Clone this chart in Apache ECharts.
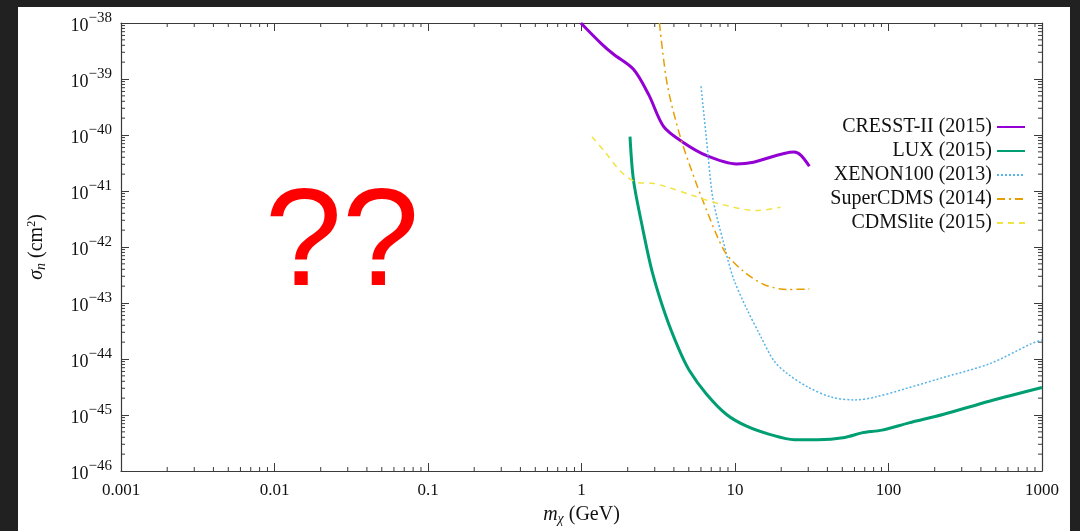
<!DOCTYPE html>
<html>
<head>
<meta charset="utf-8">
<script src="https://cdn.jsdelivr.net/npm/echarts@6/dist/echarts.min.js"></script>
<style>
  html, body { margin: 0; padding: 0; background: #212121; }
  #paper { position: absolute; left: 18px; top: 7px; width: 1052px; height: 524px; background: #ffffff; }
  #chart { position: absolute; left: 0; top: 0; width: 1080px; height: 531px; }
</style>
</head>
<body>
<div id="paper"></div>
<div id="chart"></div>
<script>
// ---- data (m_chi in GeV, sigma_n in cm^2) ----
const cresstX = [0.99, 1.35, 1.61, 2.18, 2.74, 3.43, 4.55, 6.49, 10.2, 13.2, 24.3, 26.9, 30.5];
const cresstY = [1e-38, 4.24e-39, 2.79e-39, 1.49e-39, 5.26e-40, 1.41e-40, 7.53e-41, 4.33e-41, 3.05e-41, 3.27e-41, 4.97e-41, 4.33e-41, 2.77e-41];

const luxX = [2.07, 2.18, 2.47, 2.88, 3.53, 4.33, 5.03, 6.49, 8.81, 11.9, 17.0, 24.3, 34.6, 52.0, 67.0, 90.8, 136, 226, 460, 1000];
const luxY = [9.33e-41, 1.58e-41, 2.57e-42, 3.72e-43, 6.03e-44, 1.45e-44, 6.31e-45, 2.40e-45, 1.02e-45, 6.31e-46, 4.47e-46, 3.63e-46, 3.63e-46, 3.98e-46, 4.79e-46, 5.37e-46, 7.24e-46, 1.02e-45, 1.78e-45, 3.09e-45];

const xenonX = [6.01, 6.66, 7.19, 8.36, 9.73, 11.9, 14.6, 17.9, 21.9, 29.8, 42.4, 60.5, 82.0, 129, 215, 460, 847, 1000];
const xenonY = [7.41e-40, 4.68e-41, 7.08e-42, 1.29e-42, 2.82e-43, 7.94e-44, 2.63e-44, 9.33e-45, 5.50e-45, 3.16e-45, 2.09e-45, 1.86e-45, 2.09e-45, 2.95e-45, 4.47e-45, 8.32e-45, 1.86e-44, 2.19e-44];

const superX = [3.22, 3.62, 4.43, 5.57, 6.17, 7.55, 8.81, 11.3, 15.4, 21.9, 30.5];
const superY = [1e-38, 7.94e-40, 8.71e-41, 1.41e-41, 6.76e-42, 1.70e-42, 7.41e-43, 3.72e-43, 2.14e-43, 1.74e-43, 1.78e-43];

const liteX = [1.17, 1.42, 1.83, 2.35, 2.88, 3.71, 5.30, 7.94, 13.9, 19.8];
const liteY = [9.33e-41, 5.01e-41, 2.14e-41, 1.41e-41, 1.38e-41, 1.15e-41, 8.32e-42, 5.89e-42, 4.47e-42, 5.13e-42];

const seriesNames = ['CRESST-II (2015)', 'LUX (2015)', 'XENON100 (2013)', 'SuperCDMS (2014)', 'CDMSlite (2015)'];
const xTickLabels = ['0.001', '0.01', '0.1', '1', '10', '100', '1000'];
const xMin = 0.001, xMax = 1000, yMin = 1e-46, yMax = 1e-38;
const annotation = '??';

// minor tick multipliers (2..9 x 10^k)
const minorMult = [2, 3, 4, 5, 6, 7, 8, 9];

// axes are linear in log10 space (log-log plot)
const lg = Math.log10;
const xLo = Math.round(lg(xMin)), xHi = Math.round(lg(xMax));
const yLo = Math.round(lg(yMin)), yHi = Math.round(lg(yMax));
const pair = (xs, ys) => xs.map((x, i) => [lg(x), lg(ys[i])]);

const minorData = [];
for (let d = xLo; d < xHi; d++) minorMult.forEach(k => minorData.push([d + lg(k), yLo, 0]));
for (let d = yLo; d < yHi; d++) minorMult.forEach(k => minorData.push([xLo, d + lg(k), 1]));

const SERIF = '"Liberation Serif", "DejaVu Serif", serif';
const AX = '#3a3a3a';
const TXT = '#111111';

const chart = echarts.init(document.getElementById('chart'), null, { renderer: 'canvas', width: 1080, height: 531 });

const lineSeries = (name, data, color, width, type) => ({
  name, type: 'line', data, symbol: 'none', smooth: 0.3,
  lineStyle: { color, width, type }, itemStyle: { color },
  xAxisIndex: 0, yAxisIndex: 0, z: 3
});

const axisCommon = {
  axisLine: { show: true, onZero: false, lineStyle: { color: AX, width: 1.2 } },
  axisTick: { show: true, inside: true, length: 8, lineStyle: { color: AX } },
  splitLine: { show: false }
};

const option = {
  backgroundColor: 'transparent',
  animation: false,
  grid: { left: 121, right: 38, top: 23, bottom: 59 },
  legend: {
    data: seriesNames,
    orient: 'vertical', right: 49, top: 112, align: 'right',
    itemWidth: 28, itemHeight: 14, itemGap: 4,
    itemStyle: { opacity: 0 },
    textStyle: { fontFamily: SERIF, fontSize: 20, color: TXT, lineHeight: 14 },
    selectedMode: false
  },
  xAxis: [Object.assign({
    type: 'value', min: xLo, max: xHi, interval: 1, position: 'bottom',
    axisLabel: { fontFamily: SERIF, fontSize: 17, color: TXT, margin: 11,
      formatter: v => xTickLabels[Math.round(v) - xLo] },
    name: '{i|m}{sub|χ}{n| (GeV)}', nameLocation: 'middle', nameGap: 33,
    nameTextStyle: { rich: {
      i: { fontFamily: SERIF, fontStyle: 'italic', fontSize: 20, color: TXT, lineHeight: 22, verticalAlign: 'middle' },
      sub: { fontFamily: SERIF, fontStyle: 'italic', fontSize: 14, color: TXT, lineHeight: 10, verticalAlign: 'bottom' },
      n: { fontFamily: SERIF, fontSize: 20, color: TXT, lineHeight: 22, verticalAlign: 'middle' }
    } }
  }, axisCommon), Object.assign({
    type: 'value', min: xLo, max: xHi, interval: 1, position: 'top',
    axisLabel: { show: false }
  }, axisCommon)],
  yAxis: [Object.assign({
    type: 'value', min: yLo, max: yHi, interval: 1, position: 'left',
    axisLabel: { margin: 9,
      formatter: v => '{b|10}{s|−' + (-Math.round(v)) + '}',
      rich: {
        b: { fontFamily: SERIF, fontSize: 18, color: TXT, lineHeight: 24, verticalAlign: 'bottom' },
        s: { fontFamily: SERIF, fontSize: 15, color: TXT, lineHeight: 16, verticalAlign: 'top' }
      } },
    name: '{i|σ}{sub|n}{n| (cm}{sup|2}{n|)}', nameLocation: 'middle', nameGap: 73, nameRotate: 90,
    nameTextStyle: { rich: {
      i: { fontFamily: SERIF, fontStyle: 'italic', fontSize: 20, color: TXT, lineHeight: 22, verticalAlign: 'middle' },
      sub: { fontFamily: SERIF, fontStyle: 'italic', fontSize: 14, color: TXT, lineHeight: 10, verticalAlign: 'bottom' },
      sup: { fontFamily: SERIF, fontSize: 12, color: TXT, lineHeight: 12, verticalAlign: 'top' },
      n: { fontFamily: SERIF, fontSize: 20, color: TXT, lineHeight: 22, verticalAlign: 'middle' }
    } }
  }, axisCommon), Object.assign({
    type: 'value', min: yLo, max: yHi, interval: 1, position: 'right',
    axisLabel: { show: false }
  }, axisCommon)],
  graphic: [{
    type: 'text', z: 10,
    style: { text: annotation, x: 342, y: 247, align: 'center', verticalAlign: 'middle',
      font: '139px "Liberation Sans", Arial, sans-serif', fill: '#ff0000' }
  }],
  series: [
    lineSeries(seriesNames[0], pair(cresstX, cresstY), '#9400d3', 3, 'solid'),
    lineSeries(seriesNames[1], pair(luxX, luxY), '#009e73', 3, 'solid'),
    lineSeries(seriesNames[2], pair(xenonX, xenonY), '#56b4e9', 1.5, [2, 2]),
    lineSeries(seriesNames[3], pair(superX, superY), '#e69f00', 1.5, [8, 4, 2, 4]),
    lineSeries(seriesNames[4], pair(liteX, liteY), '#f0e442', 1.5, [6, 5]),
    {
      type: 'custom', data: minorData, xAxisIndex: 0, yAxisIndex: 0, z: 2, silent: true, clip: false,
      renderItem: (params, api) => {
        const kind = api.value(2);
        const L = 4;
        const st = { stroke: AX, lineWidth: 1 };
        if (kind === 0) {
          const v = api.value(0);
          const b = api.coord([v, yLo]);
          const t = api.coord([v, yHi]);
          return { type: 'group', children: [
            { type: 'line', shape: { x1: b[0], y1: b[1], x2: b[0], y2: b[1] - L }, style: st },
            { type: 'line', shape: { x1: t[0], y1: t[1], x2: t[0], y2: t[1] + L }, style: st }
          ] };
        }
        const v = api.value(1);
        const l = api.coord([xLo, v]);
        const r = api.coord([xHi, v]);
        return { type: 'group', children: [
          { type: 'line', shape: { x1: l[0], y1: l[1], x2: l[0] + L, y2: l[1] }, style: st },
          { type: 'line', shape: { x1: r[0], y1: r[1], x2: r[0] - L, y2: r[1] }, style: st }
        ] };
      }
    }
  ]
};
chart.setOption(option);
</script>
</body>
</html>
